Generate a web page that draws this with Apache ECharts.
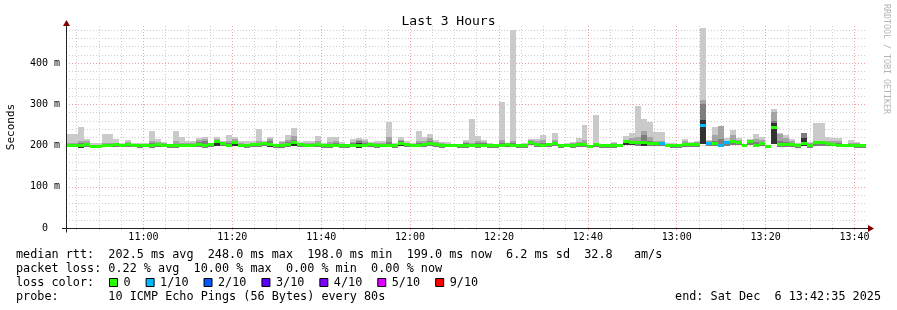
<!DOCTYPE html>
<html><head><meta charset="utf-8">
<script src="https://cdn.jsdelivr.net/npm/echarts@6/dist/echarts.min.js"></script>
<style>html,body{margin:0;padding:0;background:#fff}#c{width:897px;height:310px}</style>
</head><body><div id="c"></div>
<script>
// ---------- data ----------
const startTime = '10:42:35';
const stepSeconds = 80;
const spanSeconds = 10800;
const majorTickLabels = ['11:00','11:20','11:40','12:00','12:20','12:40','13:00','13:20','13:40'];
const yMajorTicks = [0, 100, 200, 300, 400];

const smokeMax = [
 228,228,245,215,205,205,228,228,216,205,
 213,205,205,207,235,216,208,201,235,221,
 210,210,219,221,205,221,210,225,221,210,
 210,212,240,212,221,200,211,225,243,208,
 211,211,224,205,221,220,208,203,216,219,
 216,208,211,211,258,207,220,210,205,235,
 221,228,213,209,208,203,203,213,264,223,
 213,206,203,305,204,480,202,206,216,216,
 225,207,231,203,207,209,219,250,200,274,
 200,200,209,203,223,231,296,264,258,233,
 233,206,207,200,216,209,212,485,213,245,
 248,218,237,218,203,216,228,220,200,288,
 231,225,216,206,231,209,254,254,221,218,
 218,203,213,209,204];
const smokeHi2 = [
 206,206,212,211,202,201,207,207,205,203,
 209,203,203,204,212,208,205,200,210,207,
 205,205,214,216,204,217,208,212,216,205,
 204,206,212,209,216,200,208,214,222,205,
 206,206,212,203,208,210,204,201,209,214,
 211,205,206,206,220,204,214,207,203,210,
 212,219,209,205,204,202,201,209,206,212,
 209,204,201,213,203,211,201,204,213,212,
 213,205,214,202,204,206,209,214,199,206,
 199,199,205,202,212,218,221,236,221,212,
 210,204,204,200,210,206,208,310,211,225,
 247,211,225,213,202,211,215,213,199,282,
 229,218,210,203,231,205,212,212,210,210,
 210,202,207,205,202];
const smokeHi3 = [
 203,203,207,206,200,199,203,204,203,202,
 205,202,201,202,205,204,203,199,203,204,
 203,203,208,210,203,214,206,206,212,203,
 202,204,206,206,210,199,204,208,214,203,
 203,203,206,201,204,205,202,200,205,210,
 206,203,203,203,209,202,210,205,202,205,
 206,212,206,202,202,201,200,205,203,206,
 205,202,200,207,202,206,200,202,210,207,
 206,203,209,201,202,203,205,207,198,204,
 199,199,202,201,211,212,212,226,212,208,
 207,203,202,199,206,204,205,301,208,212,
 215,208,214,210,201,210,208,209,198,260,
 210,208,206,202,231,203,209,209,207,206,
 205,201,204,202,200];
const smokeCore = [
 0,0,201,0,0,0,0,0,0,0,
 0,202,0,0,0,0,0,0,0,0,
 0,0,0,0,0,209,0,0,210,0,
 0,0,0,0,207,0,0,0,208,0,
 0,0,0,0,0,0,0,0,203,207,
 0,0,0,0,0,0,208,0,0,0,
 0,0,0,0,0,0,0,0,0,0,
 0,0,0,0,0,0,0,0,0,0,
 0,0,0,0,0,0,0,0,0,0,
 0,0,0,0,211,209,0,210,0,0,
 0,202,0,0,0,0,0,262,0,0,
 0,0,0,0,0,0,0,0,0,254,
 0,0,0,0,218,0,0,0,0,0,
 0,0,0,0,0];
const smokeLow = [
 196,196,194,197,195,195,196,196,197,196,
 197,196,195,196,195,197,196,195,195,196,
 196,196,197,195,197,199,199,196,200,196,
 195,197,197,198,197,195,195,197,200,197,
 196,196,197,195,195,196,195,195,196,195,
 196,197,195,196,196,195,199,197,196,196,
 197,198,197,195,196,196,195,195,196,195,
 196,195,195,196,197,196,195,195,201,197,
 196,197,199,195,196,195,197,197,195,197,
 195,195,195,196,202,201,200,199,198,198,
 198,196,195,195,197,197,197,204,200,199,
 196,200,202,201,196,201,196,199,194,203,
 197,197,197,195,198,195,199,199,198,198,
 196,196,196,195,195];
const medianRtt = [
 201,201,199,203,198,198,201,201,202,201,
 202,201,200,201,199,202,201,199,200,201,
 201,201,202,200,203,211,205,201,208,201,
 200,202,203,204,203,199,199,202,207,202,
 201,201,202,199,200,201,200,199,201,200,
 201,202,200,201,201,200,206,203,201,201,
 202,204,203,200,201,201,200,200,201,199,
 201,200,200,201,202,201,200,200,208,202,
 201,202,205,200,201,200,202,202,198,203,
 199,199,200,201,209,208,208,207,205,205,
 205,201,199,199,202,202,202,248,206,205,
 201,207,211,208,201,209,201,206,198,245,
 202,202,202,200,205,200,207,207,204,203,
 201,201,201,200,199];
const lossTenths = [
 0,0,0,0,0,0,0,0,0,0,
 0,0,0,0,0,0,0,0,0,0,
 0,0,0,0,0,0,0,0,0,0,
 0,0,0,0,0,0,0,0,0,0,
 0,0,0,0,0,0,0,0,0,0,
 0,0,0,0,0,0,0,0,0,0,
 0,0,0,0,0,0,0,0,0,0,
 0,0,0,0,0,0,0,0,0,0,
 0,0,0,0,0,0,0,0,0,0,
 0,0,0,0,0,0,0,0,0,0,
 1,0,0,0,0,0,0,1,1,0,
 1,1,0,0,0,0,0,0,0,0,
 0,0,0,0,0,0,0,0,0,0,
 0,0,0,0,0];
const lossLegendLabels = ['0','1/10','2/10','3/10','4/10','5/10','9/10'];
const lossLegendColors = ['#26ff00','#00b8ff','#0059ff','#5e00ff','#7e00ff','#dd00ff','#ff0000'];
const legendLines = [
 'median rtt:  202.5 ms avg  248.0 ms max  198.0 ms min  199.0 ms now  6.2 ms sd  32.8   am/s',
 'packet loss: 0.22 % avg  10.00 % max  0.00 % min  0.00 % now',
 'loss color:',
 'probe:       10 ICMP Echo Pings (56 Bytes) every 80s'
];
const endText = 'end: Sat Dec  6 13:42:35 2025';

// ---------- helpers / styles ----------
const MONO = "'DejaVu Sans Mono', monospace";
const LOSS_COLORS = ['#26ff00','#00b8ff','#0059ff','#5e00ff','#7e00ff','#dd00ff','#dd00ff','#dd00ff','#dd00ff','#ff0000','#ff0000'];
const SMOKE = ['#cacaca','#a4a4a4','#7e7e7e','#585858','#323232'];
const GRID = {left:66, top:26, width:800, height:202};
const toSec = s => s.split(':').reduce((a, p, i) => a + Number(p) * [3600, 60, 1][i], 0);
const pad = n => String(n).padStart(2, '0');
const fmtHM = v => pad(Math.floor(v / 3600)) + ':' + pad(Math.floor(v % 3600 / 60));

const T0 = toSec(startTime);
const T1 = T0 + spanSeconds;
const majorX = majorTickLabels.map(toSec);
const minorX = [];
for (let t = Math.ceil(T0 / 300) * 300; t < T1; t += 300) if (!majorX.includes(t)) minorX.push(t);
const yMax = 490;
const minorY = [];
for (let v = 20; v < yMax; v += 20) if (v % 100 !== 0) minorY.push(v);

const columns = smokeMax.map((m, i) => [
  T0 + i * stepSeconds, T0 + (i + 1) * stepSeconds,
  smokeLow[i], m, smokeHi2[i], smokeHi3[i], smokeCore[i],
  medianRtt[i], lossTenths[i]
]);

function renderColumn(params, api) {
  const t0 = api.value(0), t1 = api.value(1);
  const lo = api.value(2), mx = api.value(3), h2 = api.value(4), h3 = api.value(5), core = api.value(6);
  const med = api.value(7), loss = api.value(8);
  const xa = Math.round(api.coord([t0, 0])[0]);
  const xb = Math.round(api.coord([t1, 0])[0]);
  const py = v => api.coord([t0, v])[1];
  const kids = [];
  const band = (a, b, fill) => {
    if (!(b > a)) return;
    const ya = Math.round(py(a)), yb = Math.round(py(b));
    kids.push({type:'rect', shape:{x:xa, y:yb, width:xb - xa, height:Math.max(1, ya - yb)}, style:{fill}});
  };
  band(lo, mx, SMOKE[0]);
  band(lo, h2, SMOKE[1]);
  band(lo, h3, SMOKE[2]);
  if (core > 0) band(lo, core, SMOKE[4]);
  const ym = py(med);
  kids.push({type:'rect', shape:{x:xa, y:Math.round(ym - 1.5), width:xb - xa, height:3}, style:{fill:LOSS_COLORS[loss]}});
  return {type:'group', children:kids};
}

// ---------- graphics (text, legend, axis lines) ----------
const LEG_FS = 11.8, CHW = LEG_FS * 0.602;
const lineY = [254.5, 268.5, 282.5, 296.5];
const graphics = [];
legendLines.forEach((t, i) => graphics.push({type:'text', x:16, y:lineY[i],
  style:{text:t, fontFamily:MONO, fontSize:LEG_FS, fill:'#000', verticalAlign:'middle'}}));
graphics.push({type:'text', x:881, y:lineY[3],
  style:{text:endText, fontFamily:MONO, fontSize:LEG_FS, fill:'#000', align:'right', verticalAlign:'middle'}});
let lx = 109;
lossLegendLabels.forEach((lab, i) => {
  graphics.push({type:'rect', shape:{x:lx + 0.5, y:278.5, width:8, height:8},
    style:{fill:lossLegendColors[i], stroke:'#000', lineWidth:1}});
  const tx = lx + 14.5;
  graphics.push({type:'text', x:tx, y:lineY[2],
    style:{text:lab, fontFamily:MONO, fontSize:LEG_FS, fill:'#000', verticalAlign:'middle'}});
  lx = tx + lab.length * CHW + 15;
});
graphics.push({type:'text', x:11, y:127, rotation:Math.PI / 2,
  style:{text:'Seconds', fontFamily:MONO, fontSize:11, fill:'#000', align:'center', verticalAlign:'middle'}});
graphics.push({type:'text', x:886, y:59, rotation:-Math.PI / 2,
  style:{text:'RRDTOOL / TOBI OETIKER', fontFamily:MONO, fontSize:8.3, fill:'#b4b4b4', align:'center', verticalAlign:'middle'}});
const X0 = GRID.left + 0.5, Y0 = GRID.top + GRID.height + 0.5, X1 = GRID.left + GRID.width, Y1 = GRID.top;
graphics.push({type:'line', shape:{x1:X0 - 4.5, y1:Y0, x2:X1 + 3, y2:Y0}, style:{stroke:'#222', lineWidth:1}, z:50});
graphics.push({type:'line', shape:{x1:X0, y1:Y0 + 4, x2:X0, y2:Y1 - 2}, style:{stroke:'#222', lineWidth:1}, z:50});
graphics.push({type:'polygon', shape:{points:[[X1 + 2, Y0 - 3.5], [X1 + 2, Y0 + 3.5], [X1 + 8, Y0]]}, style:{fill:'#800000'}, z:51});
graphics.push({type:'polygon', shape:{points:[[X0 - 3.5, Y1], [X0 + 3.5, Y1], [X0, Y1 - 6]]}, style:{fill:'#800000'}, z:51});

const MINOR_C = '#cfcfcf', MAJOR_C = '#f4a0a0';
const chart = echarts.init(document.getElementById('c'), null, {renderer:'canvas'});
chart.setOption({
  animation:false,
  backgroundColor:'#ffffff',
  title:{text:'Last 3 Hours', left:'center', top:10,
    textStyle:{fontFamily:MONO, fontSize:13, fontWeight:'normal', color:'#000'}},
  grid:{left:GRID.left, top:GRID.top, width:GRID.width, height:GRID.height, containLabel:false},
  xAxis:[
    {type:'value', position:'bottom', min:T0, max:T1,
     axisLine:{show:false},
     axisTick:{show:true, customValues:majorX, length:2, lineStyle:{color:MAJOR_C}},
     axisLabel:{show:true, customValues:majorX, formatter:v => fmtHM(v), margin:4, color:'#000', fontFamily:MONO, fontSize:10},
     splitLine:{show:true, lineStyle:{color:MAJOR_C, type:[1, 2], width:1}}},
    {type:'value', position:'bottom', min:T0, max:T1,
     axisLine:{show:false},
     axisTick:{show:true, customValues:minorX, length:2, lineStyle:{color:MINOR_C}},
     axisLabel:{show:false},
     splitLine:{show:true, lineStyle:{color:MINOR_C, type:[1, 2], width:1}}}
  ],
  yAxis:[
    {type:'value', position:'left', min:0, max:yMax, interval:100,
     axisLine:{show:false}, axisTick:{show:false},
     axisLabel:{show:true, margin:6, color:'#000', fontFamily:MONO, fontSize:10, showMaxLabel:false,
       formatter:v => yMajorTicks.includes(v) ? (v === 0 ? '0  ' : v + ' m') : ''},
     splitLine:{show:true, showMinLine:false, showMaxLine:false, lineStyle:{color:MAJOR_C, type:[1, 2], width:1}}},
    {type:'value', position:'left', min:0, max:yMax,
     axisLine:{show:false}, axisTick:{show:false, customValues:minorY},
     axisLabel:{show:false},
     splitLine:{show:true, lineStyle:{color:MINOR_C, type:[1, 2], width:1}}}
  ],
  series:[{type:'custom', xAxisIndex:0, yAxisIndex:0, renderItem:renderColumn, data:columns,
    encode:{x:[0, 1], y:[2, 3]}, clip:true, silent:true, z:5}],
  graphic:graphics
});
</script></body></html>
